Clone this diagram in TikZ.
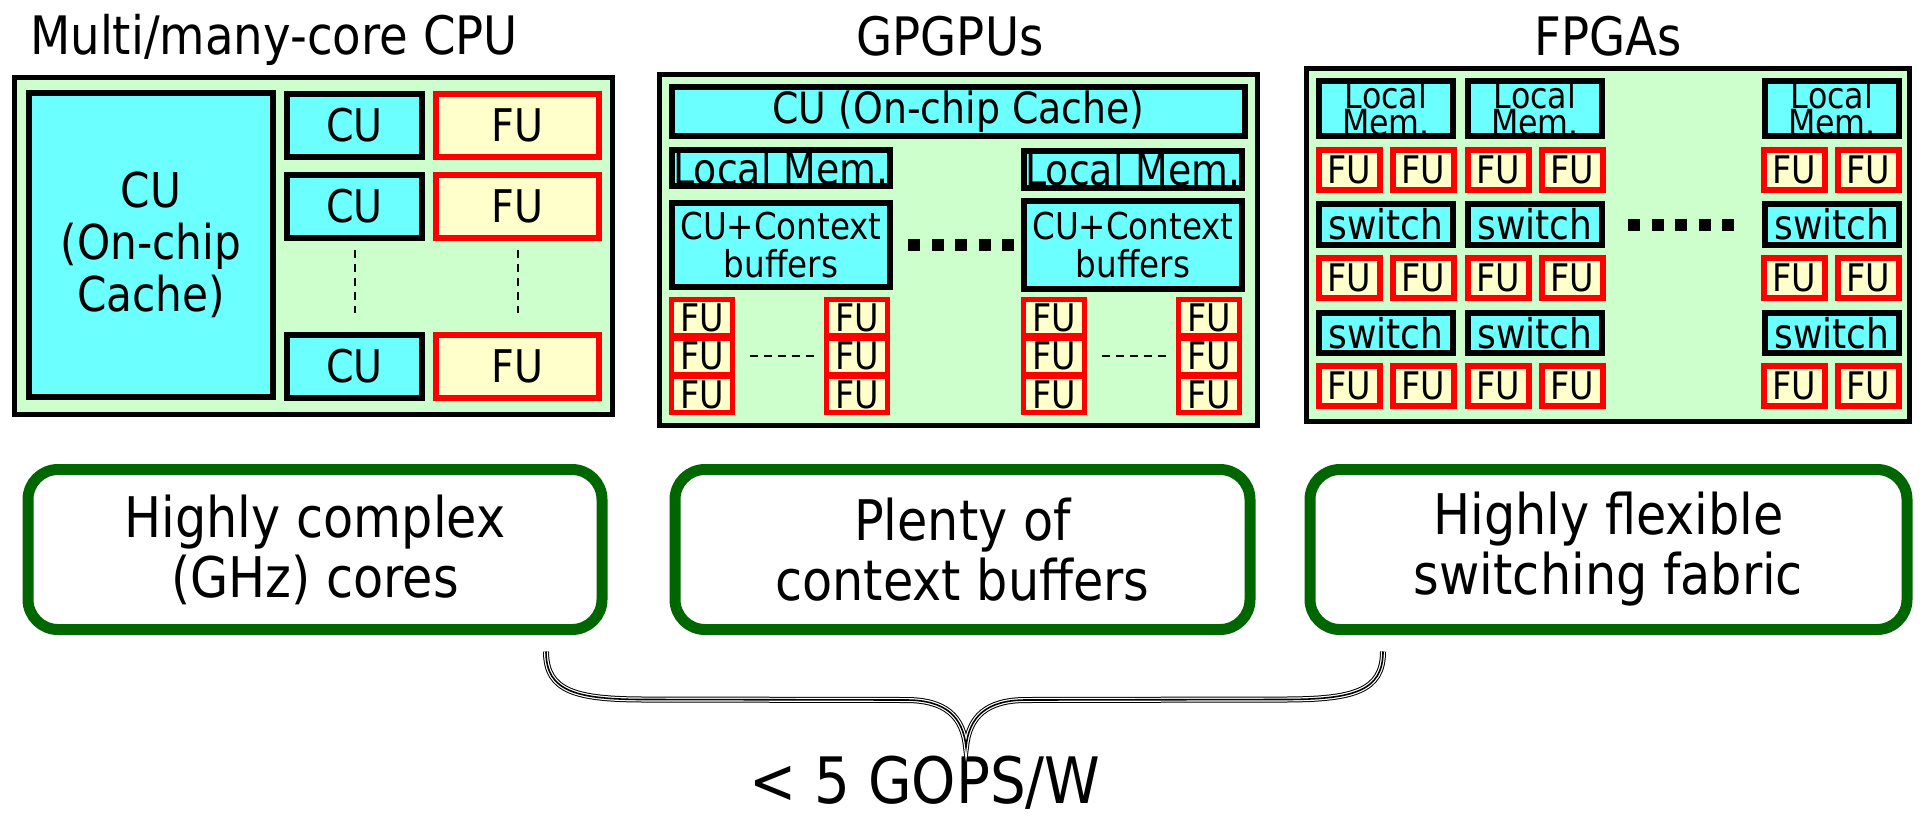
\documentclass[tikz,border=0pt]{standalone}
\usepackage{fontspec}
\setmainfont[FakeStretch=0.88]{DejaVu Sans}
\usetikzlibrary{calc}

\definecolor{panelgreen}{HTML}{CCFFCC}
\definecolor{cucyan}{HTML}{6BFFFF}
\definecolor{fuyellow}{HTML}{FFFFCC}
\definecolor{notegreen}{HTML}{006600}

\newcommand{\fs}[2]{\fontsize{#1}{#2}\selectfont}

\tikzset{
  box/.style={inner sep=0pt, outer sep=0pt, align=center},
  panel/.style={box, draw=black, line width=5pt, fill=panelgreen},
  cubox/.style={box, draw=black, line width=6pt, fill=cucyan},
  fubox/.style={box, draw=red, line width=6pt, fill=fuyellow},
  smallfu/.style={box, draw=red, line width=5pt, fill=fuyellow, font=\fs{38}{40}},
  note/.style={box, draw=notegreen, line width=11pt, rounded corners=30pt, fill=white, font=\fs{56}{60}},
  title/.style={inner sep=0pt, anchor=base, font=\fs{53}{60}},
  ellipsis/.style={line width=2pt, dash pattern=on 8pt off 6pt},
  bigdots/.style={line width=12pt, dash pattern=on 12pt off 11.5pt},
}

% box from two corners (border centre line): name, style, x1, y1, x2, y2, text
\newcommand{\bx}[7]{%
  \node[#2, minimum width={(#5)-(#3)}, minimum height={(#6)-(#4)}] (#1)
    at ({((#3)+(#5))/2},{((#4)+(#6))/2}) {#7};}

\begin{document}
\begin{tikzpicture}[x=1pt,y=-1pt]
\useasboundingbox (0,0) rectangle (1925,820);

% ---------- titles ----------
\node[title] (tcpu)  at (274,54)  {Multi/many-core CPU};
\node[title] (tgpu)  at (950,55)  {GPGPUs};
\node[title] (tfpga) at (1608,55) {FPGAs};

% ---------- multi/many-core CPU ----------
\bx{cpu}{panel}{14.5}{77.5}{612.5}{414.5}{}
\bx{cbig}{cubox,font=\fs{48}{52}}{29}{93}{273}{397}{CU\\(On-chip\\Cache)}
\bx{ccu1}{cubox,font=\fs{45}{50}}{287}{94}{422}{157}{CU}
\bx{ccu2}{cubox,font=\fs{45}{50}}{287}{175}{422}{238}{CU}
\bx{ccu3}{cubox,font=\fs{45}{50}}{287}{335}{422}{398}{CU}
\bx{cfu1}{fubox,font=\fs{45}{50}}{436}{94}{599}{157}{FU}
\bx{cfu2}{fubox,font=\fs{45}{50}}{436}{175}{599}{238}{FU}
\bx{cfu3}{fubox,font=\fs{45}{50}}{436}{335}{599}{398}{FU}
\draw[ellipsis] ($(ccu2.south)+(0,12)$) -- ($(ccu3.north)+(0,-22)$);
\draw[ellipsis] ($(cfu2.south)+(0,12)$) -- ($(cfu3.north)+(0,-22)$);

% ---------- GPGPU ----------
\bx{gpu}{panel}{659.5}{74.5}{1257.5}{425.5}{}
\bx{gcache}{cubox,font=\fs{43}{48}}{672}{87}{1245}{136}{CU (On-chip Cache)}
\bx{gmemL}{cubox,font=\fs{43}{48}}{672}{150}{890}{186}{Local Mem.}
\bx{gmemR}{cubox,font=\fs{43}{48}}{1024}{151}{1242}{188}{Local Mem.}
\bx{gctxL}{cubox,font=\fs{37}{38}}{672}{203}{890}{287}{CU+Context\\buffers}
\bx{gctxR}{cubox,font=\fs{37}{38}}{1024}{201}{1242}{289}{CU+Context\\buffers}
\foreach \c/\xa in {a/671.5, b/826.5, c/1023.5, d/1178.5}{
  \foreach \r/\ya in {1/299.5, 2/338, 3/376.5}{
    \bx{gfu\c\r}{smallfu}{\xa}{\ya}{\xa+61}{\ya+36}{FU}
  }
}
\draw[ellipsis] ($(gfua2.east)+(17,0)$) -- ($(gfub2.west)+(-9,0)$);
\draw[ellipsis] ($(gfuc2.east)+(17,0)$) -- ($(gfud2.west)+(-9,0)$);
\coordinate (gdotsA) at ($(gctxL.east)+(18,0)$);
\coordinate (gdotsB) at ($(gctxR.west)+(-8,0)$);
\draw[bigdots] (gdotsA) -- (gdotsB);

% ---------- FPGA ----------
\bx{fpga}{panel}{1306.5}{68.5}{1909.5}{421.5}{}
\foreach \c/\xa in {a/1319, b/1468, c/1765}{
  \bx{fmem\c}{cubox,font=\fs{36}{23}}{\xa}{82}{\xa+134}{135}{Local\\Mem.}
  \bx{fswa\c}{cubox,font=\fs{41}{45}}{\xa}{204}{\xa+134}{245}{switch}
  \bx{fswb\c}{cubox,font=\fs{41}{45}}{\xa}{313}{\xa+134}{353}{switch}
}
\foreach \c/\xa in {a/1319, b/1393, c/1468, d/1542, e/1764, f/1838}{
  \foreach \r/\ya in {1/150, 2/258, 3/366}{
    \bx{ffu\c\r}{fubox,font=\fs{38}{40}}{\xa}{\ya}{\xa+61}{\ya+40}{FU}
  }
}
\coordinate (fdotsA) at ($(fswab.east)+(26,0)$);
\coordinate (fdotsB) at ($(fswac.west)+(-30,0)$);
\draw[bigdots] (fdotsA) -- (fdotsB);

% ---------- summary notes ----------
\bx{n1}{note}{28}{469.5}{602}{629.5}{Highly complex\\(GHz) cores}
\bx{n2}{note}{675}{469.5}{1250}{629.5}{Plenty of\\context buffers}
\bx{n3}{note}{1310}{469.5}{1907}{629.5}{Highly flexible\\switching fabric}

% ---------- brace and efficiency figure ----------
\coordinate (brL) at ($(n1.south east)+(-56,22)$);
\coordinate (brR) at ($(n3.south west)+(73,22)$);
\coordinate (brT) at (966,747);
\node[inner sep=0pt, anchor=base, font=\fs{64}{70}] (gops) at (925,803) {< 5 GOPS/W};
\foreach \w/\col in {6pt/black, 4pt/white, 1.6pt/black}{
  \draw[line width=\w, draw=\col]
    (brL) .. controls ($(brL)+(0,40)$) and ($(brL)+(30,48)$) .. ($(brL)+(100,48)$)
    -- ($(brT)+(-60,-47)$) .. controls ($(brT)+(-20,-47)$) and ($(brT)+(-3,-30)$) .. (brT)
    .. controls ($(brT)+(3,-30)$) and ($(brT)+(20,-47)$) .. ($(brT)+(60,-47)$)
    -- ($(brR)+(-100,48)$) .. controls ($(brR)+(-30,48)$) and ($(brR)+(0,40)$) .. (brR);
}
\end{tikzpicture}
\end{document}
